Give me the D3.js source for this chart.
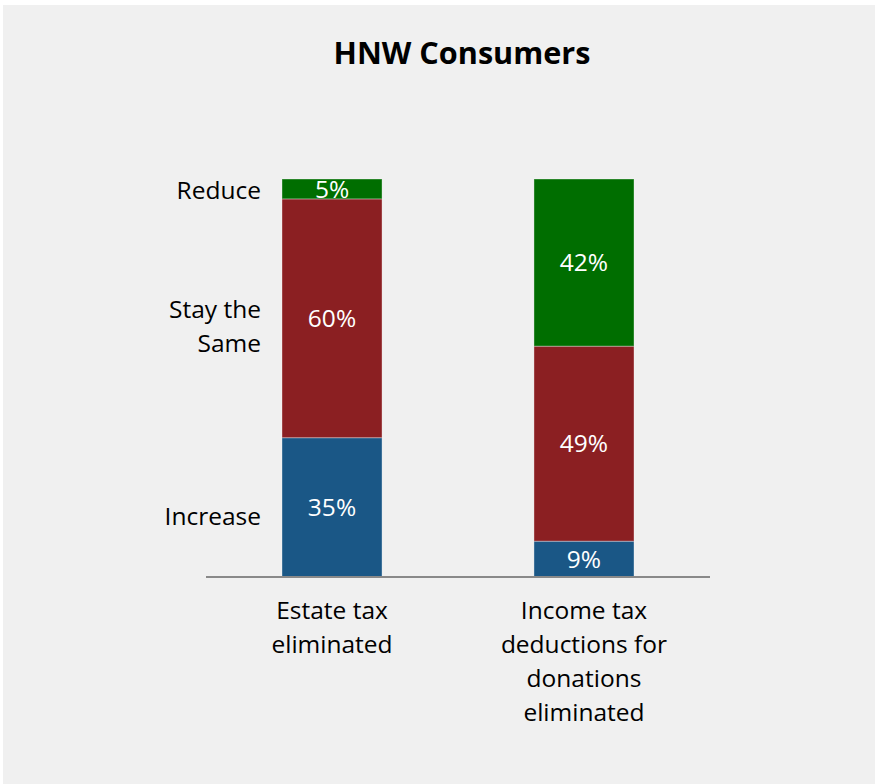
<!DOCTYPE html>
<html>
<head>
<meta charset="utf-8">
<script src="https://cdn.jsdelivr.net/npm/d3@7"></script>
<style>
  body { margin: 0; background: #ffffff; }
  svg { display: block; }
  text { font-family: "Open Sans", sans-serif; }
</style>
</head>
<body>
<div id="chart"></div>
<script>
// data
var categories = [["Estate tax", "eliminated"], ["Income tax", "deductions for", "donations", "eliminated"]]
var series = ["Increase", "Stay the Same", "Reduce"]
var increase = [35, 9]
var staySame = [60, 49]
var reduce = [5, 42]
var seriesLabels = [["Increase"], ["Stay the", "Same"], ["Reduce"]]
var colors = ["#1a5786", "#8b1f22", "#006e00"]

var width = 875,
    height = 784

var svg = d3.select("#chart")
  .append("svg")
    .attr("width", width)
    .attr("height", height)

// grey panel
svg.append("rect")
  .attr("x", 3)
  .attr("y", 5)
  .attr("width", width - 3)
  .attr("height", height - 5)
  .attr("fill", "#f0f0f0")

svg.append("text")
  .attr("x", 462)
  .attr("y", 64)
  .attr("text-anchor", "middle")
  .style("font-size", "30.6px")
  .style("font-weight", "bold")
  .text("HNW Consumers")

// build a table for d3.stack
var table = categories.map(function(c, i) {
  return { key: i, "Increase": increase[i], "Stay the Same": staySame[i], "Reduce": reduce[i] }
})
var stacked = d3.stack().keys(series)(table)

var x = d3.scaleBand()
  .domain(d3.range(categories.length))
  .range([206, 710])
  .paddingInner(0.603)
  .paddingOuter(0.3016)

var y = d3.scaleLinear()
  .domain([0, 100])
  .range([577, 179])

var layers = svg.selectAll("g.layer")
  .data(stacked)
  .enter()
  .append("g")
    .attr("class", "layer")
    .attr("fill", function(d, i) { return colors[i] })

layers.selectAll("rect")
  .data(function(d) { return d })
  .enter()
  .append("rect")
    .attr("x", function(d) { return x(d.data.key) })
    .attr("y", function(d) { return y(d[1]) })
    .attr("width", x.bandwidth())
    .attr("height", function(d) { return y(d[0]) - y(d[1]) })
    .attr("stroke", "rgba(255,255,255,0.35)")
    .attr("stroke-width", 1)

// value labels in the middle of each segment
layers.selectAll("text")
  .data(function(d) { return d })
  .enter()
  .append("text")
    .attr("x", function(d) { return x(d.data.key) + x.bandwidth() / 2 })
    .attr("y", function(d) { return (y(d[0]) + y(d[1])) / 2 })
    .attr("dy", "0.36em")
    .attr("text-anchor", "middle")
    .attr("fill", "#ffffff")
    .style("font-size", "24.5px")
    .text(function(d) { return (d[1] - d[0]) + "%" })

// series names to the left of the first bar
var nudge = [9, 8, 1]
stacked.forEach(function(s, i) {
  var seg = s[0]
  var mid = (y(seg[0]) + y(seg[1])) / 2 + nudge[i]
  var lines = seriesLabels[i]
  var t = svg.append("text")
    .attr("text-anchor", "end")
    .style("font-size", "24.5px")
    .attr("fill", "#000")
  lines.forEach(function(l, j) {
    t.append("tspan")
      .attr("x", 261)
      .attr("y", mid + (j - (lines.length - 1) / 2) * 34)
      .attr("dy", "0.36em")
      .text(l)
  })
})

// baseline
svg.append("line")
  .attr("x1", 206)
  .attr("x2", 710)
  .attr("y1", y(0))
  .attr("y2", y(0))
  .attr("stroke", "#898989")
  .attr("stroke-width", 2)

// category labels
categories.forEach(function(c, i) {
  var t = svg.append("text")
    .attr("text-anchor", "middle")
    .style("font-size", "24.5px")
  c.forEach(function(l, j) {
    t.append("tspan")
      .attr("x", x(i) + x.bandwidth() / 2)
      .attr("y", 610 + j * 34)
      .attr("dy", "0.36em")
      .text(l)
  })
})
</script>
</body>
</html>
